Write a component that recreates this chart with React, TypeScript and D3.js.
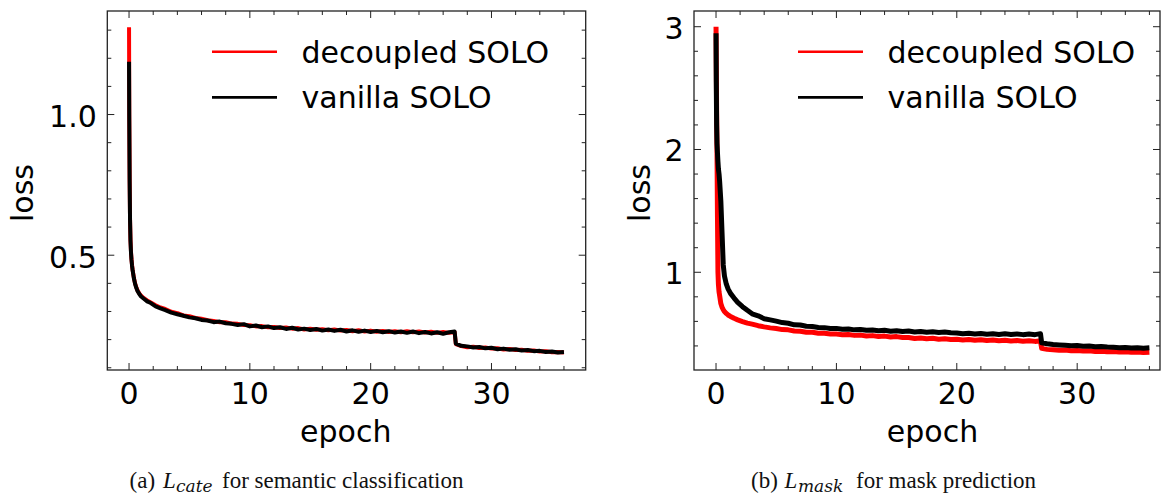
import * as d3 from "d3";

// epochs shared by all four curves (denser where the loss falls fast)
const EPOCHS = [
  0, 0.02, 0.05, 0.08, 0.12, 0.16, 0.2, 0.25, 0.3, 0.4, 0.5, 0.6, 0.7, 0.85, 1.0, 1.2, 1.5, 1.8, 2.2, 2.6,
  3.0, 3.5, 4.0, 4.5, 5.0, 5.5, 6.0, 6.5, 7.0, 7.5, 8.0, 8.5, 9.0, 9.5, 10, 10.5, 11, 11.5, 12, 12.5,
  13, 13.5, 14, 14.5, 15, 15.5, 16, 16.5, 17, 17.5, 18, 18.5, 19, 19.5, 20, 20.5, 21, 21.5, 22, 22.5,
  23, 23.5, 24, 24.5, 25, 25.5, 26, 26.5, 26.95, 27.05, 27.5, 28, 28.5, 29, 29.5, 30, 30.5, 31, 31.5, 32,
  32.5, 33, 33.5, 34, 34.5, 35, 35.5, 36,
];

const CATE_DECOUPLED = [
  1.31, 0.99, 0.77, 0.635, 0.555, 0.513, 0.488, 0.464, 0.447, 0.42, 0.4, 0.386, 0.375, 0.364, 0.356, 0.348, 0.339, 0.332, 0.322, 0.314,
  0.309, 0.299, 0.294, 0.286, 0.283, 0.277, 0.274, 0.269, 0.266, 0.262, 0.262, 0.257, 0.256, 0.252, 0.251, 0.247, 0.248, 0.244, 0.245, 0.241,
  0.243, 0.239, 0.241, 0.236, 0.239, 0.235, 0.237, 0.233, 0.236, 0.232, 0.234, 0.23, 0.233, 0.229, 0.232, 0.228, 0.231, 0.227, 0.23, 0.226,
  0.23, 0.226, 0.229, 0.225, 0.228, 0.224, 0.227, 0.224, 0.227, 0.184, 0.177, 0.173, 0.175, 0.17, 0.172, 0.168, 0.169, 0.165, 0.167, 0.163,
  0.164, 0.16, 0.161, 0.158, 0.159, 0.155, 0.156, 0.154,
];

const CATE_VANILLA = [
  1.188, 0.98, 0.76, 0.63, 0.55, 0.51, 0.485, 0.462, 0.445, 0.418, 0.398, 0.384, 0.373, 0.362, 0.353, 0.346, 0.336, 0.33, 0.318, 0.311,
  0.305, 0.296, 0.29, 0.285, 0.279, 0.276, 0.27, 0.268, 0.262, 0.264, 0.258, 0.256, 0.252, 0.255, 0.247, 0.25, 0.244, 0.247, 0.241, 0.244,
  0.238, 0.242, 0.236, 0.239, 0.234, 0.238, 0.232, 0.236, 0.231, 0.235, 0.229, 0.233, 0.228, 0.232, 0.227, 0.231, 0.226, 0.23, 0.225, 0.229,
  0.224, 0.229, 0.223, 0.227, 0.222, 0.226, 0.221, 0.226, 0.229, 0.186, 0.178, 0.176, 0.172, 0.174, 0.169, 0.171, 0.166, 0.168, 0.164, 0.166,
  0.161, 0.163, 0.159, 0.16, 0.156, 0.158, 0.154, 0.156,
];

const MASK_DECOUPLED = [
  3.0, 2.7, 2.3, 2.0, 1.45, 1.0, 0.9, 0.84, 0.81, 0.745, 0.715, 0.695, 0.68, 0.665, 0.652, 0.64, 0.625, 0.612, 0.598, 0.586,
  0.578, 0.565, 0.555, 0.547, 0.542, 0.533, 0.531, 0.522, 0.52, 0.512, 0.511, 0.504, 0.504, 0.497, 0.498, 0.491, 0.493, 0.486, 0.488, 0.481,
  0.484, 0.477, 0.48, 0.473, 0.476, 0.469, 0.468, 0.461, 0.465, 0.458, 0.462, 0.455, 0.459, 0.452, 0.455, 0.449, 0.452, 0.446, 0.45, 0.444,
  0.448, 0.442, 0.446, 0.44, 0.444, 0.438, 0.443, 0.437, 0.442, 0.38, 0.372, 0.368, 0.364, 0.366, 0.361, 0.363, 0.358, 0.36, 0.355, 0.357,
  0.352, 0.355, 0.35, 0.353, 0.348, 0.351, 0.346, 0.349,
];

const MASK_VANILLA = [
  2.946, 2.55, 2.2, 2.05, 1.97, 1.9, 1.84, 1.8, 1.74, 1.58, 1.32, 1.06, 0.97, 0.905, 0.865, 0.828, 0.79, 0.755, 0.72, 0.69,
  0.662, 0.645, 0.622, 0.612, 0.602, 0.59, 0.585, 0.572, 0.57, 0.56, 0.558, 0.55, 0.549, 0.542, 0.543, 0.536, 0.538, 0.531, 0.534, 0.527,
  0.53, 0.524, 0.527, 0.52, 0.524, 0.517, 0.521, 0.514, 0.518, 0.512, 0.516, 0.509, 0.513, 0.507, 0.505, 0.499, 0.503, 0.497, 0.502, 0.496,
  0.5, 0.494, 0.499, 0.493, 0.498, 0.492, 0.497, 0.492, 0.5, 0.425, 0.418, 0.412, 0.408, 0.405, 0.401, 0.403, 0.397, 0.399, 0.394, 0.396,
  0.391, 0.39, 0.386, 0.388, 0.383, 0.386, 0.382, 0.385,
];

const SERIES_NAMES = ["decoupled SOLO", "vanilla SOLO"];
const SERIES_COLORS = ["#ff0000", "#000000"];

const X_MAJOR = [0, 10, 20, 30];
const X_MINOR = [2, 4, 6, 8, 12, 14, 16, 18, 22, 24, 26, 28, 32, 34, 36];
const CATE_Y_MAJOR = [0.5, 1.0];
const CATE_Y_MINOR = [0.1, 0.2, 0.3, 0.4, 0.6, 0.7, 0.8, 0.9, 1.1, 1.2, 1.3];
const MASK_Y_MAJOR = [1, 2, 3];
const MASK_Y_MINOR = [0.4, 0.6, 0.8, 1.2, 1.4, 1.6, 1.8, 2.2, 2.4, 2.6, 2.8];

const FONT = "DejaVu Sans";
const SERIF = "'Liberation Serif', 'DejaVu Serif', serif";

type PanelProps = {
  id: string;
  left: number;
  right: number;
  top: number;
  bottom: number;
  xDomain: [number, number];
  yDomain: [number, number];
  yMajor: number[];
  yMinor: number[];
  yFmt: (v: number) => string;
  yTickDy: number;
  series: number[][];
  strokeWidth: number;
  legendX: number;
  xLabelX: number;
  yLabelX: number;
};

function Panel({
  id,
  left,
  right,
  top,
  bottom,
  xDomain,
  yDomain,
  yMajor,
  yMinor,
  yFmt,
  yTickDy,
  series,
  strokeWidth,
  legendX,
  xLabelX,
  yLabelX,
}: PanelProps) {
  const x = d3.scaleLinear().domain(xDomain).range([left, right]);
  const y = d3.scaleLinear().domain(yDomain).range([bottom, top]);
  const line = d3
    .line<number>()
    .x((_, i) => x(EPOCHS[i]))
    .y((d) => y(d));

  const major = 7;
  const minor = 4;
  const tickStroke = "#222";

  return (
    <g>
      <defs>
        <clipPath id={id}>
          <rect x={left} y={top} width={right - left} height={bottom - top} />
        </clipPath>
      </defs>
      <g clipPath={`url(#${id})`}>
        {series.map((s, k) => (
          <path
            key={k}
            d={line(s) || ""}
            fill="none"
            stroke={SERIES_COLORS[k]}
            strokeWidth={strokeWidth}
            strokeLinejoin="round"
          />
        ))}
      </g>
      {/* x ticks, bottom and top, pointing in */}
      {X_MAJOR.concat(X_MINOR).map((t) => {
        const len = X_MAJOR.includes(t) ? major : minor;
        return (
          <g key={`x${t}`} stroke={tickStroke} strokeWidth={1}>
            <line x1={x(t)} x2={x(t)} y1={bottom} y2={bottom - len} />
            <line x1={x(t)} x2={x(t)} y1={top} y2={top + len} />
          </g>
        );
      })}
      {yMajor.concat(yMinor).map((t) => {
        const len = yMajor.includes(t) ? major : minor;
        return (
          <g key={`y${t}`} stroke={tickStroke} strokeWidth={1}>
            <line x1={left} x2={left + len} y1={y(t)} y2={y(t)} />
            <line x1={right} x2={right - len} y1={y(t)} y2={y(t)} />
          </g>
        );
      })}
      <rect
        x={left}
        y={top}
        width={right - left}
        height={bottom - top}
        fill="none"
        stroke={tickStroke}
        strokeWidth={1.3}
      />
      <g fontFamily={FONT} fontSize={30} fill="#000">
        {X_MAJOR.map((t) => (
          <text key={`xl${t}`} x={x(t)} y={404} textAnchor="middle">
            {t}
          </text>
        ))}
        {yMajor.map((t) => (
          <text key={`yl${t}`} x={left - 10.5} y={y(t) + yTickDy} textAnchor="end">
            {yFmt(t)}
          </text>
        ))}
        <text x={xLabelX} y={442} textAnchor="middle">
          epoch
        </text>
        <text transform={`translate(${yLabelX},193) rotate(-90)`} textAnchor="middle">
          loss
        </text>
        {SERIES_NAMES.map((name, k) => (
          <g key={name}>
            <line
              x1={legendX}
              x2={legendX + 65}
              y1={51.7 + k * 45.7}
              y2={51.7 + k * 45.7}
              stroke={SERIES_COLORS[k]}
              strokeWidth={2.6}
            />
            <text x={legendX + 89.5} y={62.5 + k * 45.7}>
              {name}
            </text>
          </g>
        ))}
      </g>
    </g>
  );
}

function Caption({
  x,
  label,
  sub,
  subX,
  restX,
  rest,
}: {
  x: number;
  label: string;
  sub: string;
  subX: number;
  restX: number;
  rest: string;
}) {
  const base = 488;
  return (
    <g fontFamily={SERIF} fontSize={23} fill="#111">
      <text x={x} y={base}>
        {label}
      </text>
      <text x={x + 33.5} y={base} fontStyle="italic">
        L
      </text>
      <text x={subX} y={base + 4} fontStyle="italic" fontSize={17} fontFamily="'DejaVu Serif', serif">
        {sub}
      </text>
      <text x={restX} y={base}>
        {rest}
      </text>
    </g>
  );
}

export default function App() {
  return (
    <svg width={1164} height={495} style={{ position: "absolute", left: 0, top: 0 }}>
      <rect width={1164} height={495} fill="#fff" />
      <Panel
        id="clip-cate"
        left={107.3}
        right={585.7}
        top={11}
        bottom={370}
        xDomain={[-1.8, 37.8]}
        yDomain={[0.092, 1.368]}
        yMajor={CATE_Y_MAJOR}
        yMinor={CATE_Y_MINOR}
        yFmt={d3.format(".1f")}
        yTickDy={12.8}
        series={[CATE_DECOUPLED, CATE_VANILLA]}
        strokeWidth={4}
        legendX={212}
        xLabelX={345.8}
        yLabelX={33.3}
      />
      <Panel
        id="clip-mask"
        left={694}
        right={1160}
        top={11}
        bottom={370}
        xDomain={[-1.83, 36.88]}
        yDomain={[0.204, 3.128]}
        yMajor={MASK_Y_MAJOR}
        yMinor={MASK_Y_MINOR}
        yFmt={d3.format("d")}
        yTickDy={11.8}
        series={[MASK_DECOUPLED, MASK_VANILLA]}
        strokeWidth={5}
        legendX={798}
        xLabelX={932.5}
        yLabelX={650}
      />
      <Caption
        x={129.6}
        label="(a)"
        sub="cate"
        subX={176}
        restX={222}
        rest="for semantic classification"
      />
      <Caption
        x={751}
        label="(b)"
        sub="mask"
        subX={798}
        restX={856}
        rest="for mask prediction"
      />
    </svg>
  );
}
